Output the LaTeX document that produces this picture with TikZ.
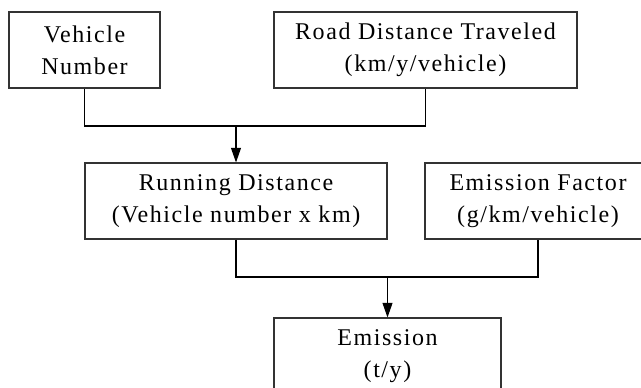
\documentclass[tikz,border=0pt]{standalone}
\usepackage{fontspec}
\setmainfont[LetterSpace=6.5]{Liberation Serif}
\usepackage{tikz}
\usetikzlibrary{arrows.meta, positioning}
\definecolor{boxline}{HTML}{333333}
\tikzstyle{flowbox}=[rectangle,draw=boxline,line width=0.8pt,fill=white,
  inner sep=0pt,minimum height=57pt,align=center,
  font=\fontsize{18pt}{24pt}\selectfont]
\tikzstyle{link}=[line width=1.3pt,black]
\tikzstyle{arr}=[-{Triangle[length=11pt,width=7.5pt]},line width=0.8pt,black]

\begin{document}
\begin{tikzpicture}[x=0.75pt,y=-0.75pt]
  \useasboundingbox (0,0) rectangle (641,388);
  \fill[white] (0,0) rectangle (641,388);
  % inputs
  \node[flowbox,minimum width=113.25pt] (vnum) at (84.5,50) {Vehicle\\Number};
  \node[flowbox,minimum width=227.25pt] (rdt) at (425.5,50) {Road Distance Traveled\\(km/y/vehicle)};
  % middle row
  \node[flowbox,minimum width=226.5pt] (run) at (236,201) {Running Distance\\(Vehicle number x km)};
  \node[flowbox,minimum width=169.5pt] (efac) at (538,201) {Emission Factor\\(g/km/vehicle)};
  % result
  \node[flowbox,minimum width=170.25pt] (emis) at (387.5,356) {Emission\\(t/y)};
  % joins
  \coordinate (j1) at (run.north |- 0,126);
  \coordinate (j2) at (emis.north |- 0,277);
  \draw[link] (vnum.south) |- (j1) -| (rdt.south);
  \draw[arr] (j1) -- (run.north);
  \draw[link] (run.south) |- (j2) -| (efac.south);
  \draw[arr] (j2) -- (emis.north);
\end{tikzpicture}
\end{document}
